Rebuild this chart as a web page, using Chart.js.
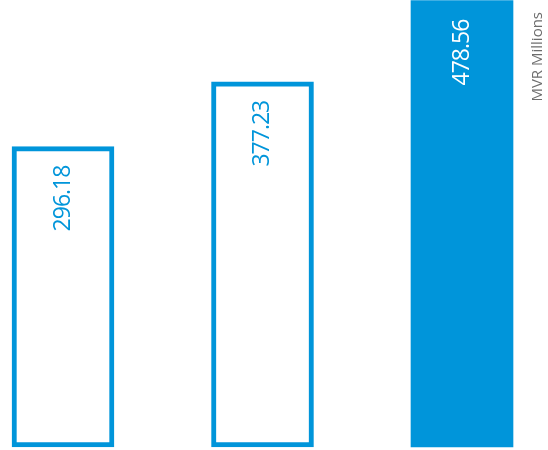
<!DOCTYPE html>
<html>
<head>
<meta charset="utf-8">
<script src="https://cdn.jsdelivr.net/npm/chart.js@4.4.1/dist/chart.umd.min.js"></script>
<style>
  html, body { margin: 0; padding: 0; background: #fff; }
  #wrap { width: 548px; height: 450px; }
</style>
</head>
<body>
<div id="wrap"><canvas id="mvrChart"></canvas></div>
<script>
// values
const categories = ['A', 'B', 'C'];
const amounts = [296.18, 377.23, 478.56];
const unitLabel = 'MVR Millions';

const BLUE = '#0095da';
const Y_MIN = -79.3;
const Y_MAX = 479.4;

// value labels, rotated, near the top of each bar
const barLabels = {
  id: 'barLabels',
  afterDatasetsDraw(chart) {
    const ctx = chart.ctx;
    const meta = chart.getDatasetMeta(0);
    ctx.save();
    ctx.font = '23px "Open Sans", sans-serif';
    ctx.letterSpacing = '-1px';
    ctx.textAlign = 'right';
    ctx.textBaseline = 'middle';
    meta.data.forEach((bar, i) => {
      ctx.save();
      ctx.translate(bar.x, bar.y + 19);
      ctx.rotate(-Math.PI / 2);
      ctx.fillStyle = i === 2 ? '#ffffff' : BLUE;
      ctx.fillText(amounts[i].toFixed(2), 0, 0);
      ctx.restore();
    });
    ctx.restore();

    // unit caption on the right
    ctx.save();
    ctx.font = '15px "Open Sans", sans-serif';
    ctx.fillStyle = '#6d6d6d';
    ctx.textAlign = 'right';
    ctx.textBaseline = 'middle';
    ctx.translate(538, 12);
    ctx.rotate(-Math.PI / 2);
    ctx.fillText(unitLabel, 0, 0);
    ctx.restore();
  }
};

new Chart(document.getElementById('mvrChart'), {
  type: 'bar',
  data: {
    labels: categories,
    datasets: [{
      data: amounts,
      base: Y_MIN,
      backgroundColor: ['#ffffff', '#ffffff', BLUE],
      borderColor: BLUE,
      borderWidth: [5, 5, 0],
      borderSkipped: false,
      barThickness: 102,
      clip: false
    }]
  },
  options: {
    responsive: true,
    maintainAspectRatio: false,
    animation: false,
    layout: { padding: { left: 63, right: 86, top: 0, bottom: 3 } },
    plugins: {
      legend: { display: false },
      tooltip: { enabled: false }
    },
    scales: {
      x: {
        display: false,
        offset: false
      },
      y: {
        display: false,
        min: Y_MIN,
        max: Y_MAX
      }
    }
  },
  plugins: [barLabels]
});
</script>
</body>
</html>
